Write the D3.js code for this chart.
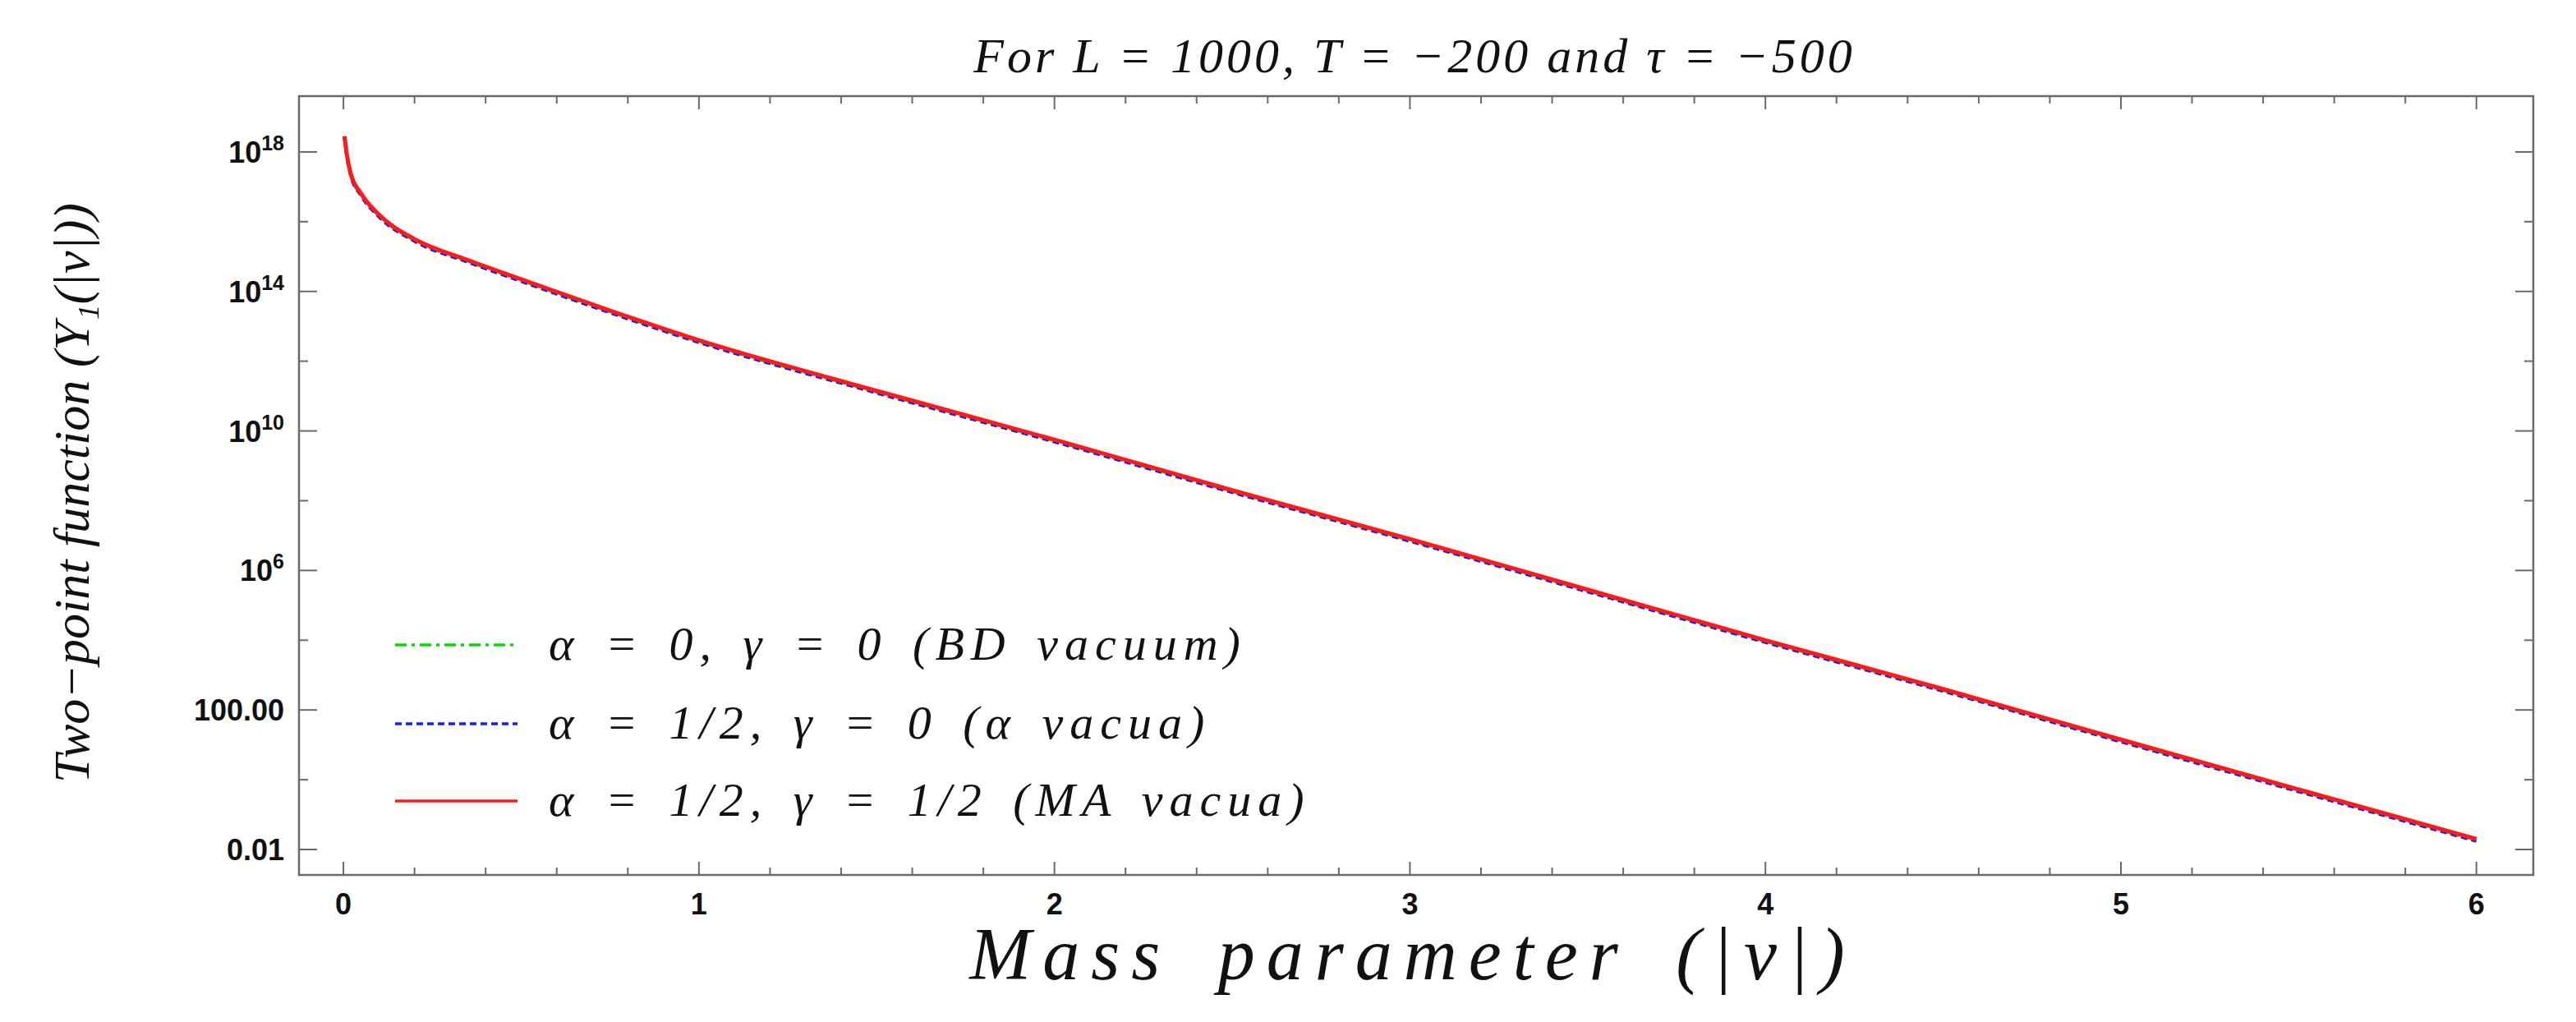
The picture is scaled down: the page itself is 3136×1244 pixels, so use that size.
<!DOCTYPE html>
<html>
  <head>
    <meta charset="utf-8">
    <script src="https://d3js.org/d3.v7.min.js"></script>
    <title>Two-point function</title>
    <style>
      body { margin: 0; background: #fff; }
      .tick-label { font-family: "Liberation Sans", Arial, sans-serif; font-weight: bold; font-size: 36px; fill: #111; }
      .math { font-family: "Liberation Serif", "DejaVu Serif", serif; font-style: italic; fill: #111; }
    </style>
  </head>
  <body>
    <svg width="3136" height="1244"></svg>
    <script>
      // mass parameter |nu| and log10 of the two-point function
      const nuValues = [0.003, 0.01, 0.02, 0.05, 0.1, 0.2, 0.35, 0.5, 0.75, 1, 1.5, 2, 2.5, 3, 3.5, 4, 4.5, 5, 5.5, 6];
      const log10Y = [18.45, 17.9, 17.4, 16.8, 16.2, 15.5, 14.9, 14.35, 13.45, 12.6, 11.15, 9.75, 8.3, 6.9, 5.45, 4.0, 2.6, 1.15, -0.28, -1.7];
      const seriesNames = ['\u03b1 = 0, \u03b3 = 0 (BD vacuum)', '\u03b1 = 1/2, \u03b3 = 0 (\u03b1 vacua)', '\u03b1 = 1/2, \u03b3 = 1/2 (MA vacua)'];
      const seriesColors = ['#00e000', '#1a1aff', '#ff1a1a'];
      const seriesDash = ['14,6,4,6', '8,5', null];
      const seriesOffset = [0.03, 0.06, 0];   // tiny vertical offsets (log units): curves almost coincide
      const yTickExps = [-2, 2, 6, 10, 14, 18];
      const yTickLabels = ['0.01', '100.00', '10^6', '10^10', '10^14', '10^18'];
      const xTicks = [0, 1, 2, 3, 4, 5, 6];

      const svg = d3.select('svg');
      const margin = { left: 364, right: 3084, top: 117, bottom: 1065 };

      const x = d3.scaleLinear().domain([-0.125, 6.16]).range([margin.left, margin.right]);
      const y = d3.scaleLinear().domain([-2.73, 19.6]).range([margin.bottom, margin.top]);

      // frame
      svg.append('rect')
          .attr('x', margin.left).attr('y', margin.top)
          .attr('width', margin.right - margin.left)
          .attr('height', margin.bottom - margin.top)
          .attr('fill', 'none').attr('stroke', '#6a6a6a').attr('stroke-width', 2.5);

      const tickG = svg.append('g').attr('stroke', '#6a6a6a').attr('stroke-width', 2);
      // x ticks, major and minor, inward on top and bottom
      d3.range(0, 31).forEach(i => {
        const v = i * 0.2;
        const len = i % 5 === 0 ? 16 : 9;
        tickG.append('line').attr('x1', x(v)).attr('x2', x(v))
            .attr('y1', margin.bottom).attr('y2', margin.bottom - len);
        tickG.append('line').attr('x1', x(v)).attr('x2', x(v))
            .attr('y1', margin.top).attr('y2', margin.top + len);
      });
      // y ticks, major every 4 decades, minor halfway
      d3.range(-2, 20, 2).forEach(e => {
        const len = (e + 2) % 4 === 0 ? 22 : 11;
        tickG.append('line').attr('y1', y(e)).attr('y2', y(e))
            .attr('x1', margin.left).attr('x2', margin.left + len);
        tickG.append('line').attr('y1', y(e)).attr('y2', y(e))
            .attr('x1', margin.right).attr('x2', margin.right - len);
      });

      svg.selectAll('.xl').data(xTicks).enter().append('text')
          .attr('class', 'tick-label')
          .attr('x', d => x(d)).attr('y', 1113)
          .attr('text-anchor', 'middle')
          .text(d => d);

      yTickExps.forEach((e, i) => {
        const lab = yTickLabels[i];
        const t = svg.append('text').attr('class', 'tick-label')
            .attr('x', 346).attr('y', y(e) + 13).attr('text-anchor', 'end');
        if (lab.startsWith('10^')) {
          t.append('tspan').text('10');
          t.append('tspan').attr('dy', -15).attr('font-size', 25).text(lab.slice(3));
        } else {
          t.text(lab);
        }
      });

      // curves
      const line = d3.line().curve(d3.curveMonotoneX);
      seriesNames.forEach((name, s) => {
        const pts = nuValues.map((v, i) => [x(v), y(log10Y[i] - seriesOffset[s])]);
        svg.append('path')
            .attr('d', line(pts))
            .attr('fill', 'none')
            .attr('stroke', seriesColors[s])
            .attr('stroke-width', s === 2 ? 5 : 4)
            .attr('stroke-dasharray', seriesDash[s]);
      });

      // legend
      const legendY = [785, 881, 975];
      seriesNames.forEach((name, s) => {
        svg.append('line')
            .attr('x1', 481).attr('x2', 630)
            .attr('y1', legendY[s]).attr('y2', legendY[s])
            .attr('stroke', seriesColors[s]).attr('stroke-width', 3.5)
            .attr('stroke-dasharray', seriesDash[s]);
        svg.append('text').attr('class', 'math')
            .attr('x', 668).attr('y', legendY[s] + 18)
            .attr('font-size', 58)
            .attr('letter-spacing', 8)
            .attr('word-spacing', 8)
            .text(name);
      });

      // titles
      svg.append('text').attr('class', 'math')
          .attr('x', 1722).attr('y', 88)
          .attr('text-anchor', 'middle').attr('font-size', 60)
          .attr('letter-spacing', 4)
          .text('For L = 1000,  T = \u2212200 and \u03c4 = \u2212500');

      svg.append('text').attr('class', 'math')
          .attr('x', 1720).attr('y', 1192)
          .attr('text-anchor', 'middle').attr('font-size', 90)
          .attr('letter-spacing', 14)
          .attr('word-spacing', 20)
          .text('Mass parameter  (|\u03bd|)');

      svg.append('text').attr('class', 'math')
          .attr('transform', 'translate(108,600) rotate(-90)')
          .attr('text-anchor', 'middle').attr('font-size', 62)
          .text('Two\u2212point function (Y\u2081(|\u03bd|))');
    </script>
  </body>
</html>
